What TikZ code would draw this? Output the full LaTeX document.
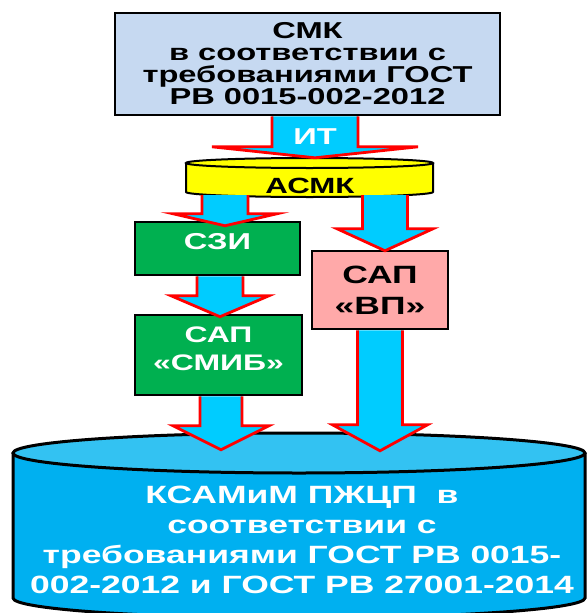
\documentclass[tikz,border=0pt]{standalone}
\usepackage{fontspec}
\setmainfont{Liberation Sans}[FakeStretch=1.42]
\usetikzlibrary{calc}

\definecolor{smkblue}{HTML}{C6D9F1}
\definecolor{arrowcyan}{HTML}{00CCFF}
\definecolor{asmkyellow}{HTML}{FFFF00}
\definecolor{szigreen}{HTML}{00B050}
\definecolor{vppink}{HTML}{FFA9A9}
\definecolor{ksamblue}{HTML}{00B0F0}
\definecolor{ksamtop}{HTML}{33C2F2}

\tikzset{
  box/.style={draw=black,line width=2.5pt,rectangle,align=center,inner sep=0pt},
  greenbox/.style={box,fill=szigreen,text=white},
  fatline/.style={red,line width=2.8pt,line join=miter},
}

% #1 start, #2 tip, #3 half shaft, #4 half head, #5 head length
\newcommand{\fatarrow}[5]{%
  \fill[arrowcyan] let \p1=(#1), \p2=(#2) in
    ({\x1-#3pt},\y1) -- ({\x1-#3pt},{\y2+#5pt}) -- ({\x1-#4pt},{\y2+#5pt}) -- (\x1,\y2)
    -- ({\x1+#4pt},{\y2+#5pt}) -- ({\x1+#3pt},{\y2+#5pt}) -- ({\x1+#3pt},\y1) -- cycle;
  \draw[fatline] let \p1=(#1), \p2=(#2) in
    ({\x1-#3pt},\y1) -- ({\x1-#3pt},{\y2+#5pt}) -- ({\x1-#4pt},{\y2+#5pt}) -- (\x1,\y2)
    -- ({\x1+#4pt},{\y2+#5pt}) -- ({\x1+#3pt},{\y2+#5pt}) -- ({\x1+#3pt},\y1);
}

\begin{document}
\begin{tikzpicture}[x=1pt,y=-1pt]
  \useasboundingbox (0,0) rectangle (587,613);

  % big drum at the bottom
  \fill[ksamblue] (13,453) -- (13,598)
    arc[start angle=180,end angle=0,x radius=286,y radius=20] -- (585,453) -- cycle;
  \draw[line width=3pt] (13,453) -- (13,598)
    arc[start angle=180,end angle=0,x radius=286,y radius=20] -- (585,453);
  \draw[line width=3pt,fill=ksamtop] (299,453) ellipse[x radius=286,y radius=20];
  \node[minimum width=572pt,minimum height=180pt,inner sep=0pt] (ksam) at (299,523) {};
  \node[text=white,align=center,font=\bfseries\fontsize{25}{30}\selectfont]
    (ksamtxt) at (302,540)
    {КСАМиМ ПЖЦП\ \ в\\соответствии с\\требованиями ГОСТ РВ 0015-\\002-2012 и ГОСТ РВ 27001-2014};

  % top box
  \node[box,fill=smkblue,minimum width=385pt,minimum height=102pt,
    font=\bfseries\fontsize{23}{22}\selectfont] (smk) at (307.5,64)
    {СМК\\в соответствии с\\требованиями ГОСТ\\РВ 0015-002-2012};

  % small yellow drum
  \fill[asmkyellow] (186,163) -- (186,192)
    arc[start angle=180,end angle=0,x radius=123.5,y radius=5] -- (433,163) -- cycle;
  \draw[line width=2pt] (186,163) -- (186,192)
    arc[start angle=180,end angle=0,x radius=123.5,y radius=5] -- (433,163);
  \draw[line width=2pt,fill=asmkyellow] (309.5,163) ellipse[x radius=123.5,y radius=5];
  \node[minimum width=247pt,minimum height=39pt,inner sep=0pt] (asmk) at (309.5,177.5) {};
  \node[font=\bfseries\fontsize{22}{26}\selectfont] (asmktxt) at (310,186) {АСМК};

  % left column and right box
  \node[greenbox,minimum width=165pt,minimum height=53pt,text depth=14pt,
    font=\bfseries\fontsize{23}{28}\selectfont] (szi) at (217.5,248.5) {СЗИ};
  \node[greenbox,minimum width=167pt,minimum height=80pt,text depth=12pt,
    font=\bfseries\fontsize{22.5}{28}\selectfont] (smib) at (218.5,355) {САП\\«СМИБ»};
  \node[box,fill=vppink,minimum width=136pt,minimum height=78pt,
    font=\bfseries\fontsize{25}{31}\selectfont] (vp) at (380,290) {САП\\«ВП»};

  % arrows
  \fatarrow{$(smk.south)+(7.5,0)$}{asmk.north}{43}{103}{11}
  \fatarrow{$(asmk.south)+(-84.5,-2)$}{$(szi.north)+(0,5)$}{23}{52}{12}
  \fatarrow{$(szi.south)+(2.5,0)$}{$(smib.north)+(0,3)$}{23}{49}{21}
  \fatarrow{$(smib.south)+(2.5,0)$}{$(ksam.north)+(0,17)$}{21}{48}{24}
  \fatarrow{$(asmk.south)+(75.5,-2)$}{$(vp.north)+(0,1)$}{22.5}{48}{22}
  \fatarrow{vp.south}{$(ksam.north)+(0,18)$}{22.5}{47.5}{26}

  \node[text=white,font=\bfseries\fontsize{23}{26}\selectfont] (it) at (315,137) {ИТ};
\end{tikzpicture}
\end{document}
